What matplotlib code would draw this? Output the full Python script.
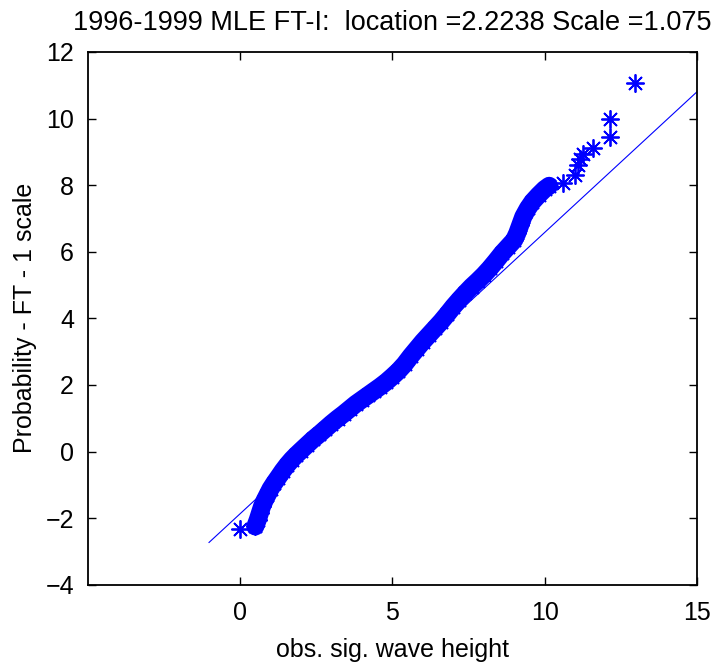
import matplotlib
matplotlib.use("Agg")
import matplotlib.pyplot as plt

plt.rcParams['font.family'] = ['Liberation Sans Narrow', 'Liberation Sans', 'DejaVu Sans']

obs_x = [0.00, 0.50, 0.58, 0.65, 0.72, 0.80, 0.90, 1.00, 1.12, 1.25, 1.40, 1.55,
         1.70, 1.85, 2.00, 2.20, 2.40, 2.60, 2.80, 3.00, 3.20, 3.40, 3.60, 3.80,
         4.00, 4.20, 4.40, 4.60, 4.80, 5.00, 5.20, 5.40, 5.60, 5.80, 6.00, 6.20,
         6.40, 6.60, 6.80, 7.00, 7.20, 7.40, 7.60, 7.80, 8.00, 8.20, 8.40, 8.60,
         8.80, 9.00, 9.10, 9.20, 9.30, 9.45, 9.60, 9.80, 10.00, 10.15,
         10.60, 11.00, 11.10, 11.15, 11.25, 11.58, 12.14, 12.14, 12.96]
obs_y = [-2.34, -2.25, -2.05, -1.85, -1.65, -1.48, -1.30, -1.12, -0.95, -0.78, -0.58, -0.40,
         -0.24, -0.10, 0.03, 0.20, 0.37, 0.52, 0.68, 0.84, 0.99, 1.13, 1.28, 1.43,
         1.56, 1.69, 1.82, 1.95, 2.09, 2.25, 2.42, 2.62, 2.86, 3.08, 3.30, 3.50,
         3.70, 3.90, 4.12, 4.35, 4.56, 4.76, 4.95, 5.12, 5.30, 5.50, 5.72, 5.95,
         6.15, 6.35, 6.55, 6.80, 7.05, 7.30, 7.50, 7.70, 7.88, 7.98,
         8.05, 8.30, 8.60, 8.80, 8.95, 9.13, 9.46, 10.00, 11.08]
n_dense = 58  # points 1..57 are so dense in the original that they merge into a band

# fitted line
fit_x = [-1.02, 15.0]
fit_y = [-2.73, 10.8]

blue = '#0000ff'
fig = plt.figure(figsize=(7.14, 6.66), dpi=100)
ax = fig.add_axes([0.123, 0.122, 0.853, 0.800])

ax.plot(fit_x, fit_y, color=blue, lw=0.8)
# solid core of the overlapping markers
ax.plot(obs_x[1:n_dense], obs_y[1:n_dense], color=blue, lw=13,
        solid_capstyle='round', solid_joinstyle='round')
ax.plot(obs_x, obs_y, ls='none', marker=(8, 2, 0), markersize=13,
        markeredgewidth=1.3, color=blue)

ax.set_xlim(-5, 15)
ax.set_ylim(-4, 12)
ax.set_xticks([0, 5, 10, 15])
ax.set_yticks(range(-4, 13, 2))
ax.tick_params(direction='in', length=6, width=1, top=True, right=True,
               labelsize=18)
ax.tick_params(axis='x', pad=12)
ax.tick_params(axis='y', pad=10)
for s in ax.spines.values():
    s.set_linewidth(1.3)

ax.set_title('1996-1999 MLE FT-I:  location =2.2238 Scale =1.075', fontsize=19.5, pad=16)
ax.set_xlabel('obs. sig. wave height', fontsize=18, labelpad=9)
ax.set_ylabel('Probability - FT - 1 scale', fontsize=18, labelpad=6)

fig.savefig('out.png', dpi=100)
